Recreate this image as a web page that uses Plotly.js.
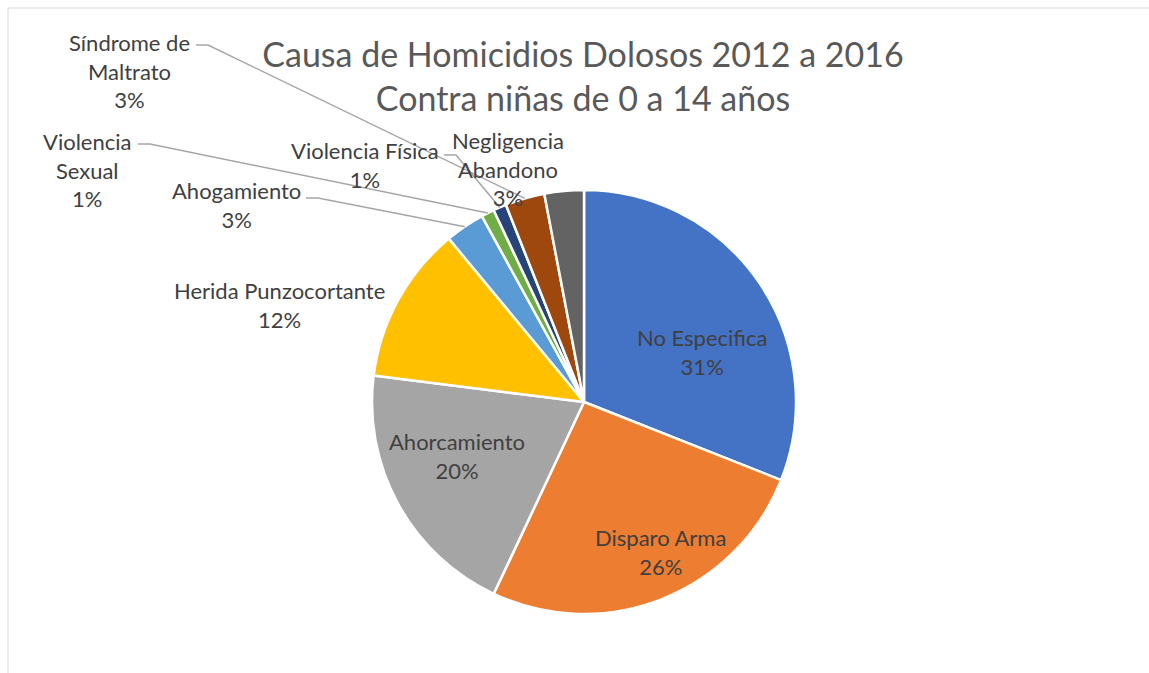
<!DOCTYPE html>
<html>
<head>
<meta charset="utf-8">
<script src="https://cdn.plot.ly/plotly-3.0.1.min.js"></script>
<style>html,body{margin:0;padding:0;background:#fff;}#chart{width:1149px;height:673px;}</style>
</head>
<body>
<div id="chart"></div>
<script>
// ---- data ----
const categories = ["No Especifica", "Disparo Arma", "Ahorcamiento", "Herida Punzocortante",
  "Ahogamiento", "Violencia Sexual", "Violencia Física", "Síndrome de Maltrato", "Negligencia Abandono"];
const values = [31, 26, 20, 12, 3, 1, 1, 3, 3];
const labelText = ["No Especifica", "Disparo Arma", "Ahorcamiento", "Herida Punzocortante",
  "Ahogamiento", "Violencia<br>Sexual", "Violencia Física", "Síndrome de<br>Maltrato", "Negligencia<br>Abandono"];
const colors = ["#4472C4", "#ED7D31", "#A5A5A5", "#FFC000", "#5B9BD5", "#70AD47", "#264478", "#9E480E", "#636363"];
const titleText = "Causa de Homicidios Dolosos 2012 a 2016<br>Contra niñas de 0 a 14 años";

// ---- layout constants (pixels) ----
const W = 1149, H = 673;
const cx = 584, cy = 402, R = 212;
// label block centres
const labelPos = [[702, 352], [660, 552], [457, 456], [279, 305], [236, 205], [87, 170], [365, 165], [129, 71], [508, 169]];
// leader line start points (label side), null = no leader
const leaderStart = [null, null, null, null, [306, 198], [138, 144], [444, 155], [196, 45], null];

const total = values.reduce((a, b) => a + b, 0);
const px = x => x / W, py = y => 1 - y / H;

const annotations = [];
const shapes = [];
let cum = 0;
values.forEach((v, i) => {
  const pct = Math.round(v / total * 100);
  annotations.push({
    x: px(labelPos[i][0]), y: py(labelPos[i][1]), xref: 'paper', yref: 'paper',
    xanchor: 'center', yanchor: 'middle', showarrow: false, align: 'center',
    text: labelText[i] + '<br>' + pct + '%',
    font: {family: 'Lato, "Open Sans", sans-serif', size: 22, color: '#404040'}
  });
  const mid = (cum + v / 2) / total * 2 * Math.PI;
  cum += v;
  if (leaderStart[i]) {
    const ex = cx + R * Math.sin(mid), ey = cy - R * Math.cos(mid);
    const [sx, sy] = leaderStart[i];
    shapes.push({
      type: 'path', xref: 'paper', yref: 'paper',
      path: `M ${px(sx)} ${py(sy)} L ${px(sx + 12)} ${py(sy)} L ${px(ex)} ${py(ey)}`,
      line: {color: '#A6A6A6', width: 1.5}
    });
  }
});

// outer chart frame
shapes.push({type: 'rect', xref: 'paper', yref: 'paper', x0: px(8), x1: px(W + 20), y0: py(H + 20), y1: py(8),
  line: {color: '#D9D9D9', width: 1}, layer: 'below'});

const trace = {
  type: 'pie', labels: categories, values: values, sort: false, direction: 'clockwise', rotation: 0,
  textinfo: 'none', hoverinfo: 'label+percent',
  marker: {colors: colors, line: {color: '#FFFFFF', width: 2.5}},
  domain: {x: [px(cx - R), px(cx + R)], y: [py(cy + R), py(cy - R)]},
  showlegend: false
};

const layout = {
  width: W, height: H, margin: {l: 0, r: 0, t: 0, b: 0},
  paper_bgcolor: '#FFFFFF', showlegend: false,
  title: {text: titleText, x: px(583), xanchor: 'center', y: py(67), yanchor: 'middle',
    font: {family: 'Lato, "Open Sans", sans-serif', size: 34, color: '#595959'}},
  annotations: annotations, shapes: shapes
};

Plotly.newPlot('chart', [trace], layout, {displayModeBar: false, staticPlot: true});
</script>
</body>
</html>
